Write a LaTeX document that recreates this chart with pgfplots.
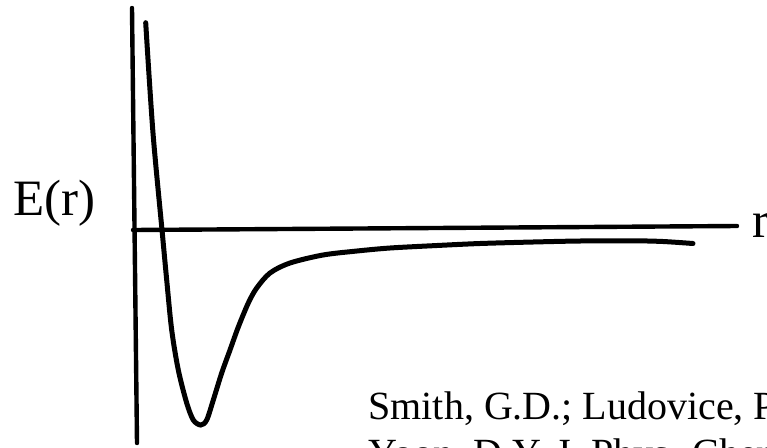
\documentclass[border=0pt]{standalone}
\usepackage{pgfplots}
\pgfplotsset{compat=1.18}
\usepackage{fontspec}
\setmainfont{Liberation Serif}

% Nonbonded pair potential E(r): steep repulsive wall, well, slow approach to zero
\pgfplotstableread{
r      E
12.7   207.3
20     97
29.3   -3
33.7   -50
38.7   -100
45.3   -140
53.7   -173
60.3   -190
67.7   -195
73.7   -190
80.3   -170
88.7   -143
97     -120
105.3  -97
115.3  -73
123.7  -58
137    -43
157    -33
190    -25
224    -21
257    -18
304    -15.5
347    -13.5
400    -12
447    -11
500    -10.8
530    -11.5
560    -13.5
}\potential

\begin{document}
\begin{tikzpicture}
\begin{axis}[
  scale only axis,
  width=383.5pt, height=223.5pt,
  xmin=-133, xmax=634, ymin=-217, ymax=230,
  hide axis,
  clip=false,
]
% hand-drawn axes
\addplot[black, line width=2.2pt, line cap=round] coordinates {(-1,222) (4,-213)};
\addplot[black, line width=2.2pt, line cap=round] coordinates {(0,0) (604,4)};
% potential curve
\addplot[black, line width=2.5pt, smooth, line cap=round] table[x=r, y=E] {\potential};

\node[anchor=base west, inner sep=0pt, font=\fontsize{25.5}{30}\selectfont] at (axis cs:-120,15) {E(r)};
\node[anchor=base west, inner sep=0pt, font=\fontsize{25.5}{30}\selectfont] at (axis cs:619,-7) {r};
\node[anchor=base west, inner sep=0pt, font=\fontsize{20}{24}\selectfont] at (axis cs:235,-189) {Smith, G.D.; Ludovice, P.J.;};
\node[anchor=base west, inner sep=0pt, font=\fontsize{20}{24}\selectfont] at (axis cs:235,-236) {Yoon, D.Y. J. Phys. Chem.};
\end{axis}
\pgfresetboundingbox
\path[use as bounding box] (current axis.south west) rectangle (current axis.north east);
\end{tikzpicture}
\end{document}
